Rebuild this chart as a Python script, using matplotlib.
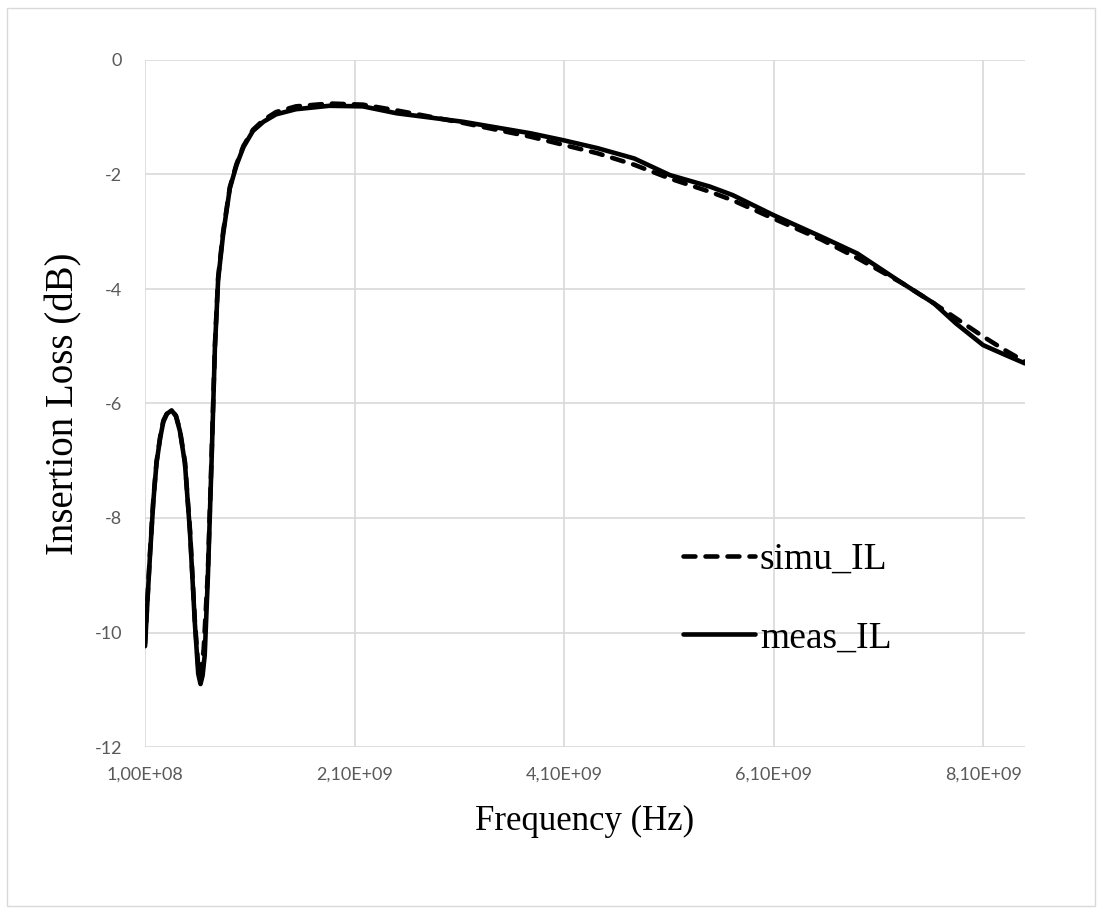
import matplotlib
matplotlib.use("Agg")
import matplotlib.pyplot as plt
from matplotlib.patches import Rectangle
from matplotlib.ticker import FuncFormatter

# ---- data (frequency in Hz, insertion loss in dB) ----
freq_meas = [1.00e8, 1.25e8, 1.48e8, 1.80e8, 2.10e8, 2.45e8, 2.75e8, 3.10e8, 3.54e8,
             3.95e8, 4.33e8, 4.81e8, 5.29e8, 5.76e8, 6.08e8, 6.30e8, 6.50e8, 6.70e8,
             7.00e8, 7.35e8, 7.67e8, 7.98e8, 8.46e8, 9.10e8, 9.73e8, 1.04e9, 1.13e9,
             1.23e9, 1.35e9, 1.54e9, 1.86e9, 2.18e9, 2.50e9, 3.14e9, 3.78e9, 4.09e9,
             4.42e9, 4.77e9, 5.11e9, 5.49e9, 5.71e9, 6.10e9, 6.56e9, 6.90e9, 7.33e9,
             7.63e9, 7.84e9, 8.10e9, 8.31e9, 8.50e9]
il_meas = [-10.24, -9.40, -8.64, -7.70, -7.04, -6.60, -6.32, -6.18, -6.12,
           -6.22, -6.48, -7.04, -8.24, -9.84, -10.72, -10.90, -10.75, -10.40,
           -9.04, -7.04, -5.04, -3.84, -3.04, -2.24, -1.84, -1.52, -1.24,
           -1.08, -0.95, -0.86, -0.80, -0.81, -0.93, -1.08, -1.28, -1.40,
           -1.54, -1.72, -2.01, -2.21, -2.36, -2.71, -3.09, -3.38, -3.90,
           -4.25, -4.60, -4.98, -5.15, -5.30]

freq_simu = [1.00e8, 1.25e8, 1.48e8, 1.80e8, 2.10e8, 2.45e8, 2.75e8, 3.10e8, 3.54e8,
             3.95e8, 4.33e8, 4.81e8, 5.29e8, 5.76e8, 6.08e8, 6.20e8, 6.40e8, 6.60e8,
             7.00e8, 7.35e8, 7.67e8, 7.98e8, 8.46e8, 9.10e8, 9.73e8, 1.04e9, 1.13e9,
             1.23e9, 1.35e9, 1.54e9, 1.86e9, 2.18e9, 2.50e9, 3.14e9, 3.78e9, 4.09e9,
             4.42e9, 4.77e9, 5.11e9, 5.49e9, 5.71e9, 6.10e9, 6.56e9, 6.90e9, 7.33e9,
             7.63e9, 7.84e9, 8.10e9, 8.31e9, 8.50e9]
il_simu = [-10.20, -9.36, -8.60, -7.66, -7.02, -6.58, -6.30, -6.17, -6.12,
           -6.21, -6.46, -7.02, -8.20, -9.80, -10.60, -10.75, -10.62, -10.30,
           -8.95, -6.95, -5.00, -3.80, -3.00, -2.22, -1.82, -1.50, -1.22,
           -1.05, -0.91, -0.81, -0.76, -0.78, -0.88, -1.10, -1.34, -1.48,
           -1.63, -1.83, -2.07, -2.30, -2.45, -2.77, -3.14, -3.46, -3.90,
           -4.25, -4.51, -4.83, -5.07, -5.27]

x_ticks = [1.0e8, 2.1e9, 4.1e9, 6.1e9, 8.1e9]
y_ticks = [0, -2, -4, -6, -8, -10, -12]
series_names = ["simu_IL", "meas_IL"]

W, H = 1102, 913
fig = plt.figure(figsize=(W / 100, H / 100), dpi=100)
# outer chart border
fig.patches.append(Rectangle((7 / W, 7 / H), (1095 - 7) / W, (905 - 7) / H,
                             transform=fig.transFigure, fill=False,
                             edgecolor="#d9d9d9", linewidth=1.0))

ax = fig.add_axes([145 / W, 1 - 747 / H, (1025 - 145) / W, (747 - 60) / H])

ax.plot(freq_simu, il_simu, color="black", lw=3.3, linestyle=(0, (2.6, 2.2)),
        dash_capstyle="round", dash_joinstyle="round", label=series_names[0], zorder=3)
ax.plot(freq_meas, il_meas, color="black", lw=3.3, solid_capstyle="round",
        solid_joinstyle="round", label=series_names[1], zorder=4)

ax.set_xlim(1.0e8, 8.5e9)
ax.set_ylim(-12, 0)
ax.set_xticks(x_ticks)
ax.set_yticks(y_ticks)
ax.xaxis.set_major_formatter(FuncFormatter(
    lambda v, p: ("%.2E" % v).replace(".", ",")))
ax.yaxis.set_major_formatter(FuncFormatter(lambda v, p: "%d" % v))

for s in ax.spines.values():
    s.set_visible(False)
ax.grid(True, color="#d9d9d9", linewidth=1.2, zorder=0)
ax.set_axisbelow(True)
ax.tick_params(length=0, labelsize=13, labelcolor="#595959")
ax.tick_params(axis="x", pad=14)
ax.tick_params(axis="y", pad=16.5)
for lab in ax.get_xticklabels() + ax.get_yticklabels():
    lab.set_family(["Lato", "DejaVu Sans"])

ax.set_xlabel("Frequency (Hz)", fontsize=25, family=["Liberation Serif"], labelpad=16)
ax.set_ylabel("Insertion Loss (dB)", fontsize=28, family=["Liberation Serif"], labelpad=9)

leg = fig.legend(loc="center left", bbox_to_anchor=(683 / W, 1 - 599 / H),
                 bbox_transform=fig.transFigure, frameon=False,
                 prop={"family": "Liberation Serif", "size": 27},
                 borderpad=0, borderaxespad=0,
                 handlelength=1.92, handletextpad=0.13, labelspacing=1.17)

fig.savefig("out.png", dpi=100, facecolor="white")
